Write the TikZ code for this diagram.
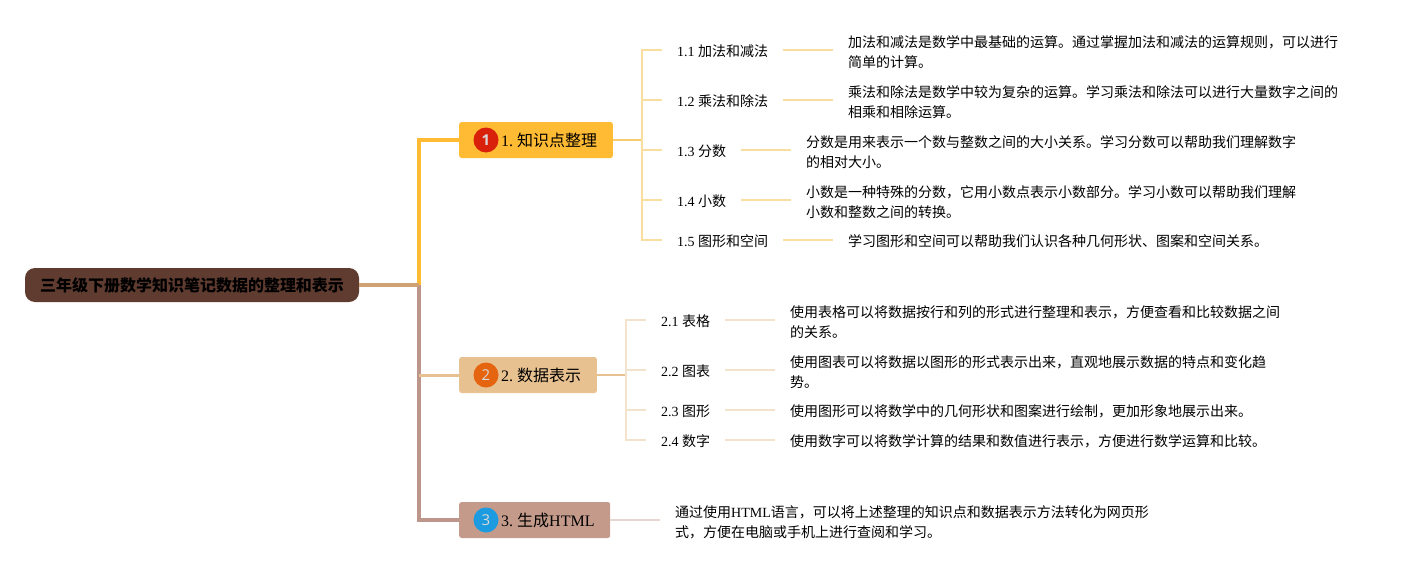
\documentclass[tikz,border=0pt]{standalone}
\usepackage{fontspec}
\setmainfont{Liberation Serif}
\newfontfamily\cjk{Noto Sans CJK SC}
\newfontfamily\numfont{Open Sans}
\newcommand{\zh}[1]{{\cjk #1}}
\newcommand{\lowered}{\rule{0pt}{17pt}}
\lineskiplimit=-5pt
\definecolor{rootcol}{HTML}{5F3B30}
\definecolor{amber}{HTML}{FFBB33}
\definecolor{sand}{HTML}{E8C190}
\definecolor{clay}{HTML}{C49A8A}
\definecolor{tan}{HTML}{CFA273}
\definecolor{trunkcol}{HTML}{BC968A}
\definecolor{amberlt}{HTML}{F9DF9F}
\definecolor{ambermd}{HTML}{F7CC6E}
\definecolor{sandlt}{HTML}{F3E3CC}
\definecolor{claylt}{HTML}{E6D6D0}
\definecolor{badgea}{HTML}{D9200A}
\definecolor{badgeb}{HTML}{E5640F}
\definecolor{badgec}{HTML}{1C9BE0}
\tikzset{
  rootbox/.style={fill=rootcol,rounded corners=10pt,minimum width=334pt,minimum height=34pt,inner sep=0pt,font=\fontsize{16}{20}\selectfont\cjk\bfseries},
  branchbox/.style={anchor=west,rounded corners=2.5pt,minimum height=36pt,inner sep=0pt,font=\fontsize{16}{20}\selectfont},
  badge/.style={circle,minimum size=25pt,inner sep=0pt,text=white!85!black,font=\fontsize{15}{15}\selectfont\numfont},
  topic/.style={anchor=west,inner xsep=15pt,inner ysep=0pt,font=\fontsize{14}{20}\selectfont,execute at begin node={\rule{0pt}{14.3pt}}},
  detail/.style={anchor=west,inner xsep=15pt,inner ysep=0pt,align=left,font=\fontsize{14}{20}\selectfont},
  thick trunk/.style={line width=4pt},
  twig/.style={line width=2pt}
}
\begin{document}
\begin{tikzpicture}[x=1pt,y=-1pt]
      \useasboundingbox (0,0) rectangle (1408,570);
      \node[rootbox] (root) at (192,285) {三年级下册数学知识笔记数据的整理和表示};

      \node[branchbox,fill=amber] (b1) at (459,140) {\hspace*{42pt}1.\hspace*{4pt}\zh{知识点整理}\hspace*{15.7pt}};
      \node[branchbox,fill=sand] (b2) at (459,375) {\hspace*{42pt}2.\hspace*{4pt}\zh{数据表示}\hspace*{15.7pt}};
      \node[branchbox,fill=clay] (b3) at (459,520) {\hspace*{42pt}3.\hspace*{4pt}\zh{生成}HTML\hspace*{15.7pt}};
      \node[badge,fill=badgea,font=\fontsize{15}{15}\selectfont\numfont\bfseries] (n1) at (486,140) {1};
      \node[badge,fill=badgeb] (n2) at (486,375) {2};
      \node[badge,fill=badgec] (n3) at (486,520) {3};

      \coordinate (j0) at (419,285);
      \coordinate (j1) at (642,140);
      \coordinate (j2) at (626,375);

      \node[topic] (l11) at (662,50) {1.1 \zh{加法和减法}};
      \node[topic] (l12) at (662,100) {1.2 \zh{乘法和除法}};
      \node[topic] (l13) at (662,150) {1.3 \zh{分数}};
      \node[topic] (l14) at (662,200) {1.4 \zh{小数}};
      \node[topic] (l15) at (662,240) {1.5 \zh{图形和空间}};
      \node[detail] (t11) at (833,50) {\lowered\zh{加法和减法是数学中最基础的运算。通过掌握加法和减法的运算规则，可以进行}\\\zh{简单的计算。}};
      \node[detail] (t12) at (833,100) {\lowered\zh{乘法和除法是数学中较为复杂的运算。学习乘法和除法可以进行大量数字之间的}\\\zh{相乘和相除运算。}};
      \node[detail] (t13) at (791,150) {\lowered\zh{分数是用来表示一个数与整数之间的大小关系。学习分数可以帮助我们理解数字}\\\zh{的相对大小。}};
      \node[detail] (t14) at (791,200) {\lowered\zh{小数是一种特殊的分数，它用小数点表示小数部分。学习小数可以帮助我们理解}\\\zh{小数和整数之间的转换。}};
      \node[detail] (t15) at (833,240) {\rule{0pt}{14.3pt}\zh{学习图形和空间可以帮助我们认识各种几何形状、图案和空间关系。}};

      \node[topic] (l21) at (646,320) {2.1 \zh{表格}};
      \node[topic] (l22) at (646,370) {2.2 \zh{图表}};
      \node[topic] (l23) at (646,410) {2.3 \zh{图形}};
      \node[topic] (l24) at (646,440) {2.4 \zh{数字}};
      \node[detail] (t21) at (775,320) {\lowered\zh{使用表格可以将数据按行和列的形式进行整理和表示，方便查看和比较数据之间}\\\zh{的关系。}};
      \node[detail] (t22) at (775,370) {\lowered\zh{使用图表可以将数据以图形的形式表示出来，直观地展示数据的特点和变化趋}\\\zh{势。}};
      \node[detail] (t23) at (775,410) {\rule{0pt}{14.3pt}\zh{使用图形可以将数学中的几何形状和图案进行绘制，更加形象地展示出来。}};
      \node[detail] (t24) at (775,440) {\rule{0pt}{14.3pt}\zh{使用数字可以将数学计算的结果和数值进行表示，方便进行数学运算和比较。}};

      \node[detail] (t31) at (660,520) {\lowered\zh{通过使用}HTML\zh{语言，可以将上述整理的知识点和数据表示方法转化为网页形}\\\zh{式，方便在电脑或手机上进行查阅和学习。}};

      \draw[thick trunk,amber] (j0) |- (b1.west);
      \draw[thick trunk,trunkcol] (j0) |- (b3.west);
      \draw[line width=3pt,sand] (j0 |- b2.west) -- (b2.west);
      \draw[thick trunk,tan] (root.east) -- (j0);

      \draw[twig,ambermd] (b1.east) -- (j1);
      \draw[twig,amberlt] (j1) |- (l11.west);
      \draw[twig,amberlt] (j1) |- (l12.west);
      \draw[twig,amberlt] (j1) |- (l13.west);
      \draw[twig,amberlt] (j1) |- (l14.west);
      \draw[twig,amberlt] (j1) |- (l15.west);
      \draw[twig,amberlt] (l11.east) -- (t11.west);
      \draw[twig,amberlt] (l12.east) -- (t12.west);
      \draw[twig,amberlt] (l13.east) -- (t13.west);
      \draw[twig,amberlt] (l14.east) -- (t14.west);
      \draw[twig,amberlt] (l15.east) -- (t15.west);

      \draw[twig,sand] (b2.east) -- (j2);
      \draw[twig,sandlt] (j2) |- (l21.west);
      \draw[twig,sandlt] (j2) |- (l22.west);
      \draw[twig,sandlt] (j2) |- (l23.west);
      \draw[twig,sandlt] (j2) |- (l24.west);
      \draw[twig,sandlt] (l21.east) -- (t21.west);
      \draw[twig,sandlt] (l22.east) -- (t22.west);
      \draw[twig,sandlt] (l23.east) -- (t23.west);
      \draw[twig,sandlt] (l24.east) -- (t24.west);

      \draw[twig,claylt] (b3.east) -- (t31.west);
    \end{tikzpicture}
\end{document}
